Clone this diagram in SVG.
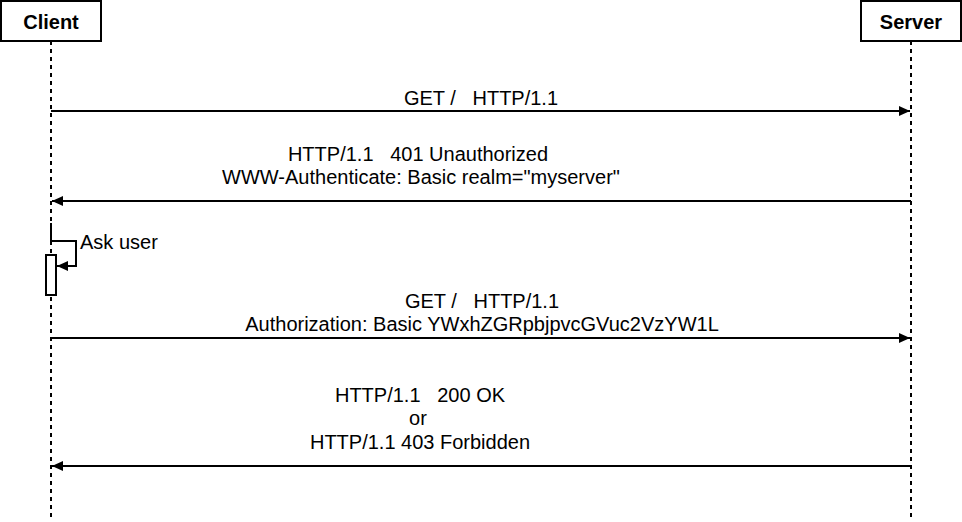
<svg xmlns="http://www.w3.org/2000/svg" width="962" height="522" viewBox="0 0 962 522">
<style>
.box{fill:#fff;stroke:#000;stroke-width:2}
.life{stroke:#000;stroke-width:2;stroke-dasharray:4 4;fill:none}
.msg{stroke:#000;stroke-width:2;fill:none}
.lbl{font-family:"Liberation Sans",Arial,sans-serif;font-size:20px;fill:#000;white-space:pre}
.title{font-family:"Liberation Sans",Arial,sans-serif;font-size:20px;font-weight:bold;fill:#000}
</style>
<defs>
<marker id="ah" markerWidth="12" markerHeight="10" refX="11" refY="5" orient="auto" markerUnits="userSpaceOnUse">
<path d="M0,0 L11,5 L0,10 Z" fill="#000"/>
</marker>
</defs>
<g id="client">
<rect class="box" x="1" y="1" width="100" height="40"/>
<text class="title" x="51" y="29" text-anchor="middle">Client</text>
<line class="life" x1="51" y1="41" x2="51" y2="518"/>
</g>
<g id="server">
<rect class="box" x="861" y="1" width="100" height="40"/>
<text class="title" x="911" y="29" text-anchor="middle">Server</text>
<line class="life" x1="911" y1="41" x2="911" y2="518"/>
</g>
<g id="activation">
<rect class="box" x="46" y="255" width="10" height="40"/>
</g>
<g id="connectors">
<line class="msg" x1="51" y1="111" x2="910" y2="111" marker-end="url(#ah)"/>
<line class="msg" x1="911" y1="201" x2="52" y2="201" marker-end="url(#ah)"/>
<path class="msg" d="M51,223 V241 H76 V266 H57" marker-end="url(#ah)"/>
<line class="msg" x1="51" y1="338" x2="910" y2="338" marker-end="url(#ah)"/>
<line class="msg" x1="911" y1="466" x2="52" y2="466" marker-end="url(#ah)"/>
</g>
<g id="labels">
<text class="lbl" x="481" y="105" text-anchor="middle" xml:space="preserve">GET /   HTTP/1.1</text>
<text class="lbl" x="418" y="161" text-anchor="middle" xml:space="preserve">HTTP/1.1   401 Unauthorized</text>
<text class="lbl" x="421" y="184" text-anchor="middle">WWW-Authenticate: Basic realm="myserver"</text>
<text class="lbl" x="80" y="249">Ask user</text>
<text class="lbl" x="482" y="308" text-anchor="middle" xml:space="preserve">GET /   HTTP/1.1</text>
<text class="lbl" x="482" y="331" text-anchor="middle">Authorization: Basic YWxhZGRpbjpvcGVuc2VzYW1L</text>
<text class="lbl" x="420" y="402" text-anchor="middle" xml:space="preserve">HTTP/1.1   200 OK</text>
<text class="lbl" x="418" y="425" text-anchor="middle">or</text>
<text class="lbl" x="420" y="449" text-anchor="middle">HTTP/1.1 403 Forbidden</text>
</g>
</svg>
